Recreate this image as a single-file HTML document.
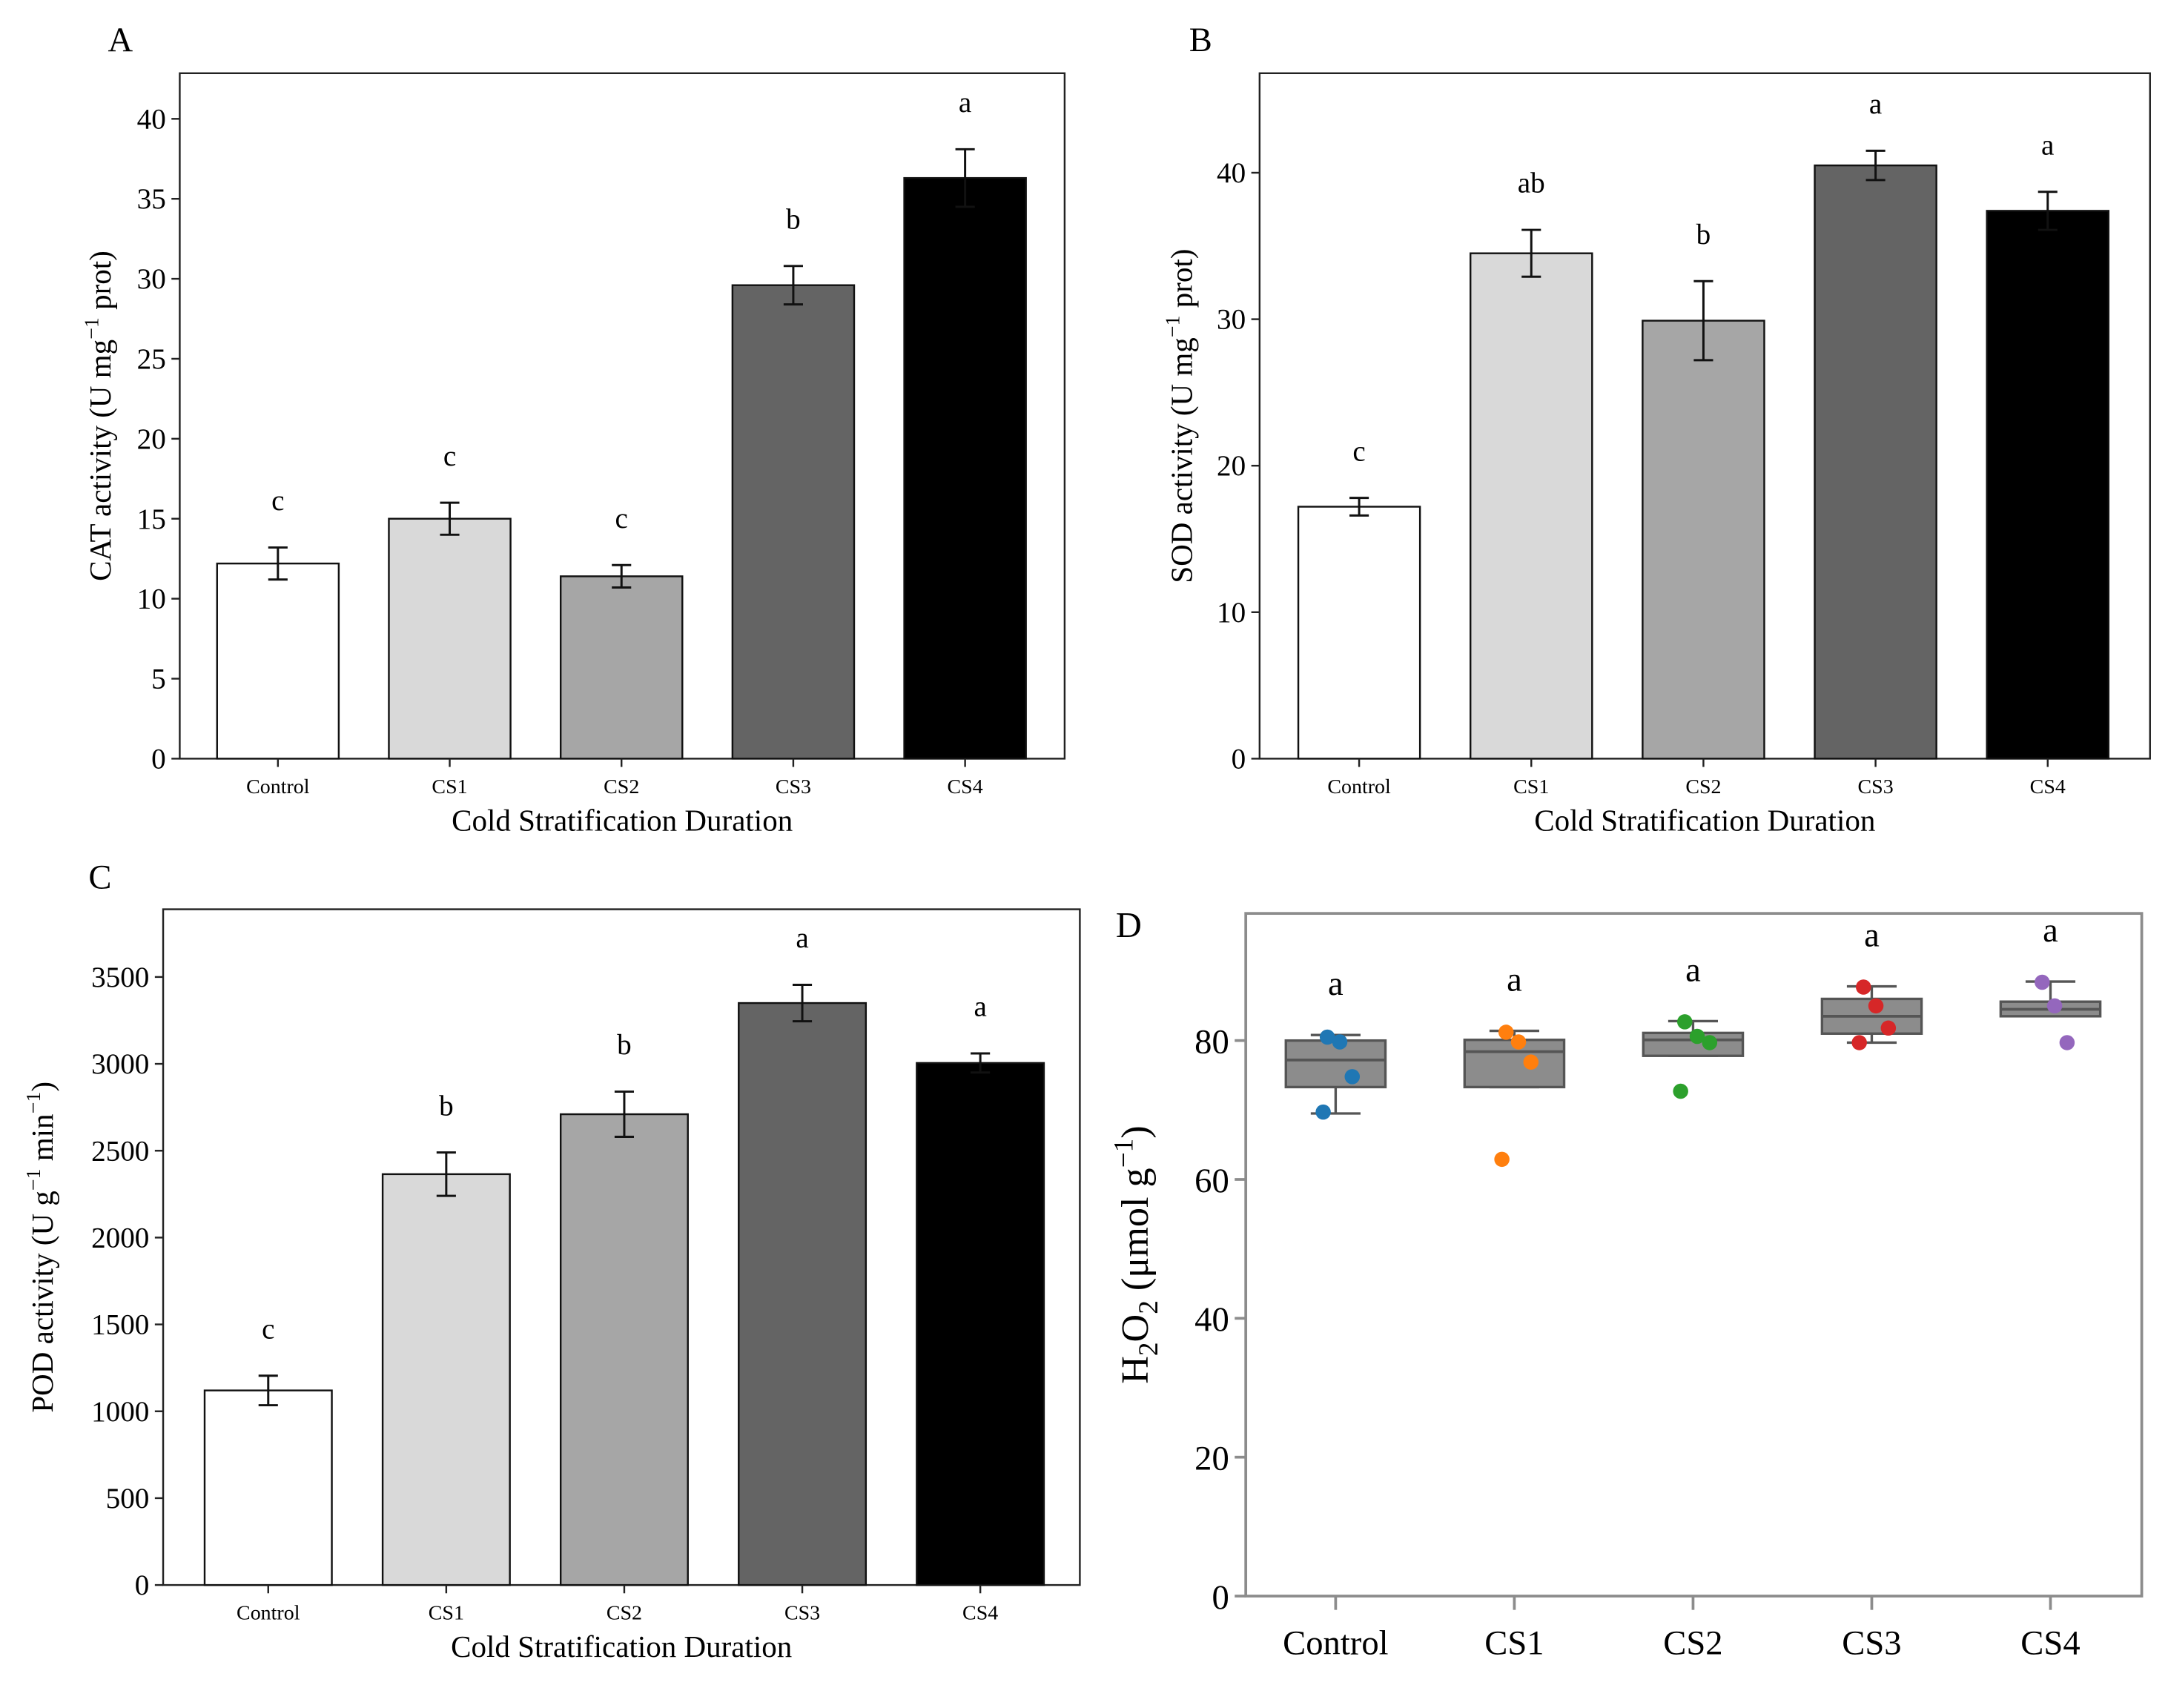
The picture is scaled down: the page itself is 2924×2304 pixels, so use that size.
<!DOCTYPE html>
<html><head><meta charset="utf-8"><style>
html,body{margin:0;padding:0;background:#fff}
svg{display:block;font-family:"Liberation Serif",serif}
</style></head><body>
<svg id="fig" width="2924" height="2304" viewBox="0 0 1568 1236" preserveAspectRatio="none" xmlns="http://www.w3.org/2000/svg"></svg>
<script>
const cats = ["Control","CS1","CS2","CS3","CS4"];
const fills = ["#ffffff","#d9d9d9","#a6a6a6","#646464","#000000"];
const catVals = [12.2,15.0,11.4,29.6,36.3];
const catErr = [1.0,1.0,0.7,1.2,1.8];
const catLetters = ["c","c","c","b","a"];
const catTicks = [0,5,10,15,20,25,30,35,40];
const sodVals = [17.2,34.5,29.9,40.5,37.4];
const sodErr = [0.6,1.6,2.7,1.0,1.3];
const sodLetters = ["c","ab","b","a","a"];
const sodTicks = [0,10,20,30,40];
const podVals = [1120,2365,2710,3350,3005];
const podErr = [85,125,130,105,55];
const podLetters = ["c","b","b","a","a"];
const podTicks = [0,500,1000,1500,2000,2500,3000,3500];
const h2oQ1 = [73.3,73.3,77.8,81.0,83.5];
const h2oMed = [77.2,78.4,80.1,83.5,84.5];
const h2oQ3 = [80.0,80.1,81.1,86.0,85.6];
const h2oLo = [69.5,73.3,77.8,79.7,83.5];
const h2oHi = [80.8,81.4,82.8,87.8,88.5];
const h2oPts = [[80.5,79.8,74.8,69.7],[81.2,79.8,76.9,62.9],[82.7,80.6,79.7,72.7],[87.7,85.0,81.8,79.7],[88.4,85.0,79.7]];
const h2oColors = ["#1f77b4","#ff7f0e","#2ca02c","#d62728","#9467bd"];
const h2oLetters = ["a","a","a","a","a"];
const h2oTicks = [0,20,40,60,80];

const svg = document.getElementById('fig');
const NS = "http://www.w3.org/2000/svg";
function mk(tag, attrs, parent, text){
  const e = document.createElementNS(NS, tag);
  for (const k in attrs) e.setAttribute(k, attrs[k]);
  if (text !== undefined) e.textContent = text;
  (parent||svg).appendChild(e);
  return e;
}

function barPanel(o){
  const g = mk('g', {});
  
  
  const y = v => o.bottom - (v - 0) / o.ymax * (o.bottom - o.ytop);
  const xs = i => o.x0 + i * o.dx;
  const frame = mk('rect', {x:o.left, y:o.top, width:o.right-o.left, height:o.bottom-o.top, fill:'none', stroke:'#222', 'stroke-width':1.3}, g);
  
  
  o.ticks.forEach(t => {
    mk('line', {x1:o.left-6, x2:o.left, y1:y(t), y2:y(t), stroke:'#222', 'stroke-width':1.3}, g);
    const tl = mk('text', {x:o.left-10, y:y(t)+7, 'text-anchor':'end', 'font-size':21}, g, t);
    
    
  });
  o.vals.forEach((v, i) => {
    const cx = xs(i);
    const b = mk('rect', {x:cx-o.bw/2, y:y(v), width:o.bw, height:o.bottom-y(v), fill:fills[i], stroke:'#111', 'stroke-width':1.3}, g);
    
    
    const e = o.err[i];
    mk('line', {x1:cx, x2:cx, y1:y(v+e), y2:y(v-e), stroke:'#111', 'stroke-width':1.6}, g);
    mk('line', {x1:cx-7, x2:cx+7, y1:y(v+e), y2:y(v+e), stroke:'#111', 'stroke-width':1.6}, g);
    mk('line', {x1:cx-7, x2:cx+7, y1:y(v-e), y2:y(v-e), stroke:'#111', 'stroke-width':1.6}, g);
    mk('line', {x1:cx, x2:cx, y1:o.bottom, y2:o.bottom+6, stroke:'#222', 'stroke-width':1.3}, g);
    const lt = mk('text', {x:cx, y:y(v+e)-27, 'text-anchor':'middle', 'font-size':21}, g, o.letters[i]);
    
    
    const xl = mk('text', {x:cx, y:o.bottom+25, 'text-anchor':'middle', 'font-size':15}, g, cats[i]);
    
    
  });
  const xt = mk('text', {x:(o.left+o.right)/2, y:o.bottom+52, 'text-anchor':'middle', 'font-size':22}, g, 'Cold Stratification Duration');
  
  
  const yt = mk('text', {x:0, y:0, 'text-anchor':'middle', 'font-size':22, transform:`translate(${o.ytx},${(o.top+o.bottom)/2}) rotate(-90)`}, g);
  yt.innerHTML = o.ytitle;
  
  
  const pl = mk('text', {x:o.plx, y:o.ply, 'font-size':25}, g, o.label);
  
  
}

barPanel({name:'panel-a-cat', left:130, top:53, right:770, bottom:549, ytop:86, ymax:40, x0:201, dx:124.25, bw:88,
  vals:catVals, err:catErr, letters:catLetters, ticks:catTicks, ytx:80, plx:78, ply:37, label:'A',
  ytitle:'CAT activity (U mg<tspan dy="-9" font-size="15">−1</tspan><tspan dy="9"> prot)</tspan>'});
barPanel({name:'panel-b-sod', left:911, top:53, right:1555, bottom:549, ytop:125, ymax:40, x0:983, dx:124.5, bw:88,
  vals:sodVals, err:sodErr, letters:sodLetters, ticks:sodTicks, ytx:862, plx:860, ply:37, label:'B',
  ytitle:'SOD activity (U mg<tspan dy="-9" font-size="15">−1</tspan><tspan dy="9"> prot)</tspan>'});
barPanel({name:'panel-c-pod', left:118, top:658, right:781, bottom:1147, ytop:707, ymax:3500, x0:194, dx:128.75, bw:92,
  vals:podVals, err:podErr, letters:podLetters, ticks:podTicks, ytx:38, plx:64, ply:643, label:'C',
  ytitle:'POD activity (U g<tspan dy="-9" font-size="15">−1</tspan><tspan dy="9"> min</tspan><tspan dy="-9" font-size="15">−1</tspan><tspan dy="9">)</tspan>'});

// Panel D
(function(){
  const g = mk('g', {});
  
  
  const left=901, top=661, right=1549, bottom=1155;
  const y = v => bottom - v * (bottom - 753) / 80;
  const xs = i => 966 + i * 129.25;
  const frame = mk('rect', {x:left, y:top, width:right-left, height:bottom-top, fill:'none', stroke:'#8c8c8c', 'stroke-width':2}, g);
  
  
  h2oTicks.forEach(t => {
    mk('line', {x1:left-8, x2:left, y1:y(t), y2:y(t), stroke:'#8c8c8c', 'stroke-width':2}, g);
    const tl = mk('text', {x:left-12, y:y(t)+9, 'text-anchor':'end', 'font-size':25}, g, t);
    
    
  });
  cats.forEach((c, i) => {
    const cx = xs(i), hw = 36;
    mk('line', {x1:cx, x2:cx, y1:bottom, y2:bottom+10, stroke:'#8c8c8c', 'stroke-width':2}, g);
    const xl = mk('text', {x:cx, y:bottom+42, 'text-anchor':'middle', 'font-size':25}, g, c);
    
    
    mk('line', {x1:cx, x2:cx, y1:y(h2oHi[i]), y2:y(h2oLo[i]), stroke:'#555', 'stroke-width':1.8}, g);
    mk('line', {x1:cx-18, x2:cx+18, y1:y(h2oHi[i]), y2:y(h2oHi[i]), stroke:'#555', 'stroke-width':1.8}, g);
    mk('line', {x1:cx-18, x2:cx+18, y1:y(h2oLo[i]), y2:y(h2oLo[i]), stroke:'#555', 'stroke-width':1.8}, g);
    const b = mk('rect', {x:cx-hw, y:y(h2oQ3[i]), width:hw*2, height:y(h2oQ1[i])-y(h2oQ3[i]), fill:'#8c8c8c', stroke:'#555', 'stroke-width':1.8}, g);
    
    
    mk('line', {x1:cx-hw, x2:cx+hw, y1:y(h2oMed[i]), y2:y(h2oMed[i]), stroke:'#555', 'stroke-width':2}, g);
    const off = [-6, 3, 12, -9];
    h2oPts[i].forEach((p, j) => {
      const d = mk('circle', {cx:cx + off[j % 4], cy:y(p), r:5.5, fill:h2oColors[i]}, g);
      
      
    });
    const lt = mk('text', {x:cx, y:y(h2oHi[i])-29, 'text-anchor':'middle', 'font-size':25}, g, h2oLetters[i]);
    
    
  });
  const yt = mk('text', {x:0, y:0, 'text-anchor':'middle', 'font-size':28, transform:`translate(830,${(top+bottom)/2}) rotate(-90)`}, g);
  yt.innerHTML = 'H<tspan dy="7" font-size="20">2</tspan><tspan dy="-7">O</tspan><tspan dy="7" font-size="20">2</tspan><tspan dy="-7"> (μmol g</tspan><tspan dy="-11" font-size="20">−1</tspan><tspan dy="11">)</tspan>';
  
  
  const pl = mk('text', {x:807, y:678, 'font-size':26}, g, 'D');
  
  
})();
</script>
</body></html>
